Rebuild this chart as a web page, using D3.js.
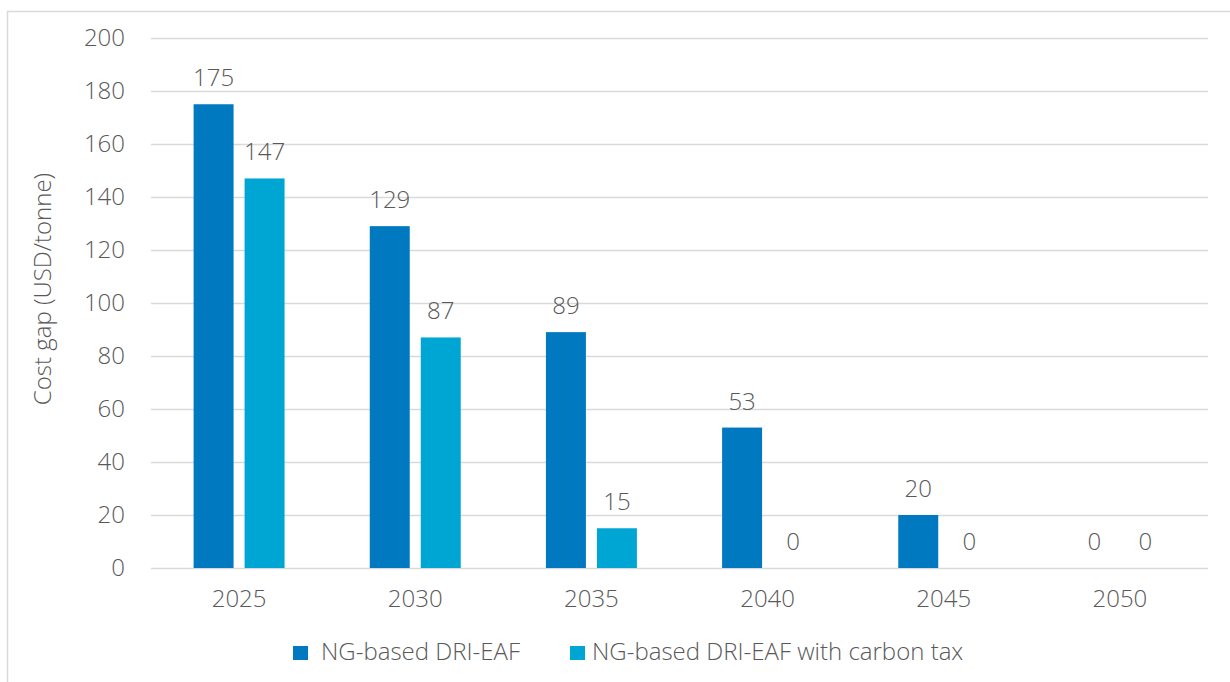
<!DOCTYPE html>
<html>
<head>
<meta charset="utf-8">
<script src="https://cdn.jsdelivr.net/npm/d3@7"></script>
<style>
  html, body { margin: 0; padding: 0; background: #fff; }
  svg { display: block; font-family: "Open Sans", sans-serif; }
</style>
</head>
<body>
<svg id="chart" width="1230" height="682"></svg>
<script>
// Cost gap per tonne for each year and production route
const years = ["2025", "2030", "2035", "2040", "2045", "2050"];
const seriesNames = ["NG-based DRI-EAF", "NG-based DRI-EAF with carbon tax"];
const ngDriEaf = [175, 129, 89, 53, 20, 0];
const ngDriEafCarbonTax = [147, 87, 15, 0, 0, 0];
const yTicks = [0, 20, 40, 60, 80, 100, 120, 140, 160, 180, 200];
const colors = ["#0079C1", "#00A6D3"];

const seriesValues = [ngDriEaf, ngDriEafCarbonTax];
const rows = years.map((yr, i) => ({
  year: yr,
  values: seriesNames.map((s, k) => ({ series: s, value: seriesValues[k][i] }))
}));

const svg = d3.select("#chart");
const textColor = "#595959";
const gridColor = "#d9d9d9";
const fontSize = 24;

// outer frame
svg.append("rect")
  .attr("x", 7.5).attr("y", 11.5)
  .attr("width", 1300).attr("height", 700)
  .attr("fill", "none").attr("stroke", "#d9d9d9").attr("stroke-width", 1.5);

const plot = { left: 151, right: 1208, top: 38, bottom: 568 };

const y = d3.scaleLinear().domain([0, 200]).range([plot.bottom, plot.top]);
const x0 = d3.scaleBand().domain(years).range([plot.left, plot.right])
  .paddingInner(0.4836).paddingOuter(0.2418);
const x1 = d3.scaleBand().domain(seriesNames).range([0, x0.bandwidth()])
  .paddingInner(0.216).paddingOuter(0);
const color = d3.scaleOrdinal().domain(seriesNames).range(colors);

// gridlines
svg.append("g").selectAll("line").data(yTicks).join("line")
  .attr("x1", plot.left).attr("x2", plot.right)
  .attr("y1", d => Math.round(y(d)) + 0.5).attr("y2", d => Math.round(y(d)) + 0.5)
  .attr("stroke", gridColor).attr("stroke-width", 1.5);

// y axis labels
const yAxis = d3.axisLeft(y).tickValues(yTicks).tickSize(0).tickPadding(0);
const yg = svg.append("g").attr("transform", `translate(125,0)`).call(yAxis);
yg.select(".domain").remove();
yg.selectAll("text")
  .attr("fill", textColor).attr("font-size", fontSize).attr("font-weight", 300)
  .attr("font-family", "Open Sans, sans-serif");

// x axis labels
const xAxis = d3.axisBottom(x0).tickSize(0).tickPadding(0);
const xg = svg.append("g").attr("transform", `translate(0,${plot.bottom + 22})`).call(xAxis);
xg.select(".domain").remove();
xg.selectAll("text")
  .attr("fill", textColor).attr("font-size", fontSize).attr("font-weight", 300)
  .attr("font-family", "Open Sans, sans-serif");

// bars
const groups = svg.append("g").selectAll("g").data(rows).join("g")
  .attr("transform", d => `translate(${x0(d.year)},0)`);

groups.selectAll("rect").data(d => d.values).join("rect")
  .attr("x", d => x1(d.series))
  .attr("y", d => y(d.value))
  .attr("width", x1.bandwidth())
  .attr("height", d => y(0) - y(d.value))
  .attr("fill", d => color(d.series));

// value labels
groups.selectAll("text.val").data(d => d.values).join("text")
  .attr("class", "val")
  .attr("x", d => x1(d.series) + x1.bandwidth() / 2)
  .attr("y", d => y(d.value) - 18)
  .attr("text-anchor", "middle")
  .attr("fill", textColor).attr("font-size", fontSize).attr("font-weight", 300)
  .text(d => d.value);

// y axis title
svg.append("text")
  .attr("transform", `translate(51,289) rotate(-90)`)
  .attr("text-anchor", "middle")
  .attr("fill", textColor).attr("font-size", fontSize).attr("font-weight", 300)
  .text("Cost gap (USD/tonne)");

// legend
const legendItems = [
  { name: seriesNames[0], sx: 293, tx: 321 },
  { name: seriesNames[1], sx: 570, tx: 592 }
];
const lg = svg.append("g");
lg.selectAll("rect").data(legendItems).join("rect")
  .attr("x", d => d.sx).attr("y", 646)
  .attr("width", 15).attr("height", 14)
  .attr("fill", d => color(d.name));
lg.selectAll("text").data(legendItems).join("text")
  .attr("x", d => d.tx).attr("y", 660)
  .attr("fill", textColor).attr("font-size", fontSize).attr("font-weight", 300)
  .text(d => d.name);
</script>
</body>
</html>
